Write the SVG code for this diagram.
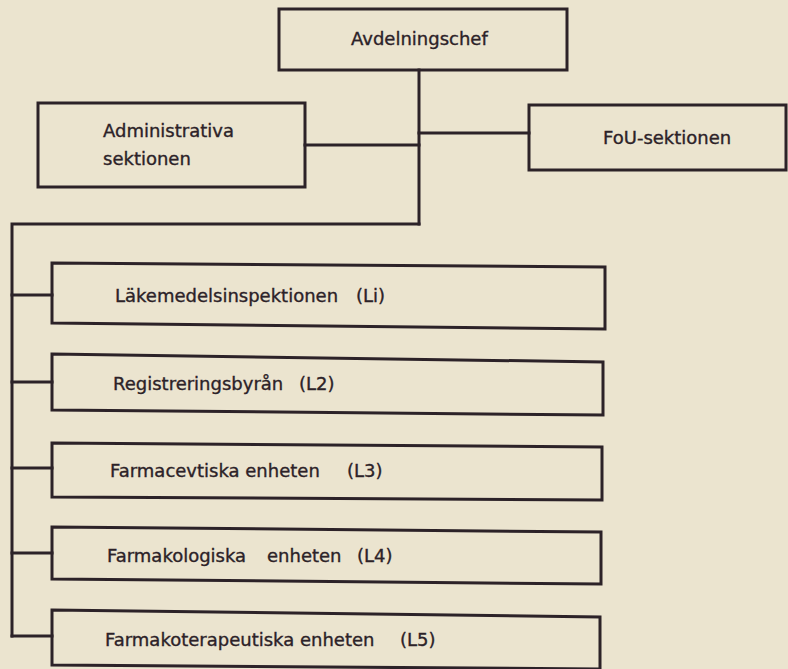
<svg xmlns="http://www.w3.org/2000/svg" width="788" height="669" viewBox="0 0 788 669">
  <style>
    .box { fill: none; stroke: #2c2228; stroke-width: 3; stroke-linejoin: miter; }
    .conn { fill: none; stroke: #2c2228; stroke-width: 3; stroke-linecap: square; }
    .lbl { font-family: "DejaVu Sans", "Liberation Sans", sans-serif; font-size: 18px; fill: #2c2228; stroke: #2c2228; stroke-width: 0.35; }
  </style>
  <rect x="0" y="0" width="788" height="669" fill="#ebe4cf"/>

  <g id="connectors">
    <path class="conn" d="M419 70 L419 224"/>
    <path class="conn" d="M305 145 L419 145"/>
    <path class="conn" d="M419 133 L529 133"/>
    <path class="conn" d="M419 224 L12 224 L12 636"/>
    <path class="conn" d="M12 295 L52 295"/>
    <path class="conn" d="M12 382 L52 382"/>
    <path class="conn" d="M12 468 L52 468"/>
    <path class="conn" d="M12 553 L52 553"/>
    <path class="conn" d="M12 636 L52 636"/>
  </g>

  <g id="avdelningschef">
    <rect class="box" x="279" y="9" width="288" height="61"/>
    <text class="lbl" x="351" y="45">Avdelningschef</text>
  </g>

  <g id="administrativa">
    <rect class="box" x="38" y="103" width="267" height="84"/>
    <text class="lbl" x="103" y="137">Administrativa</text>
    <text class="lbl" x="103" y="165">sektionen</text>
  </g>

  <g id="fou">
    <rect class="box" x="529" y="105" width="257" height="65"/>
    <text class="lbl" x="603" y="144">FoU-sektionen</text>
  </g>

  <g id="li">
    <path class="box" d="M52 263 L605 267 L605 329 L52 323 Z"/>
    <text class="lbl" y="302"><tspan x="115">Läkemedelsinspektionen</tspan><tspan x="356">(Li)</tspan></text>
  </g>

  <g id="l2">
    <path class="box" d="M52 354 L603 362 L603 415 L52 410 Z"/>
    <text class="lbl" y="390"><tspan x="113">Registreringsbyrån</tspan><tspan x="299">(L2)</tspan></text>
  </g>

  <g id="l3">
    <path class="box" d="M52 443 L602 447 L602 500 L52 497 Z"/>
    <text class="lbl" y="477"><tspan x="110">Farmacevtiska enheten</tspan><tspan x="347">(L3)</tspan></text>
  </g>

  <g id="l4">
    <path class="box" d="M52 527 L601 532 L601 584 L52 579 Z"/>
    <text class="lbl" y="562"><tspan x="107">Farmakologiska</tspan><tspan x="267">enheten</tspan><tspan x="357">(L4)</tspan></text>
  </g>

  <g id="l5">
    <path class="box" d="M52 610 L600 617 L600 669 L52 665 Z"/>
    <text class="lbl" y="646"><tspan x="105">Farmakoterapeutiska enheten</tspan><tspan x="400">(L5)</tspan></text>
  </g>
</svg>
